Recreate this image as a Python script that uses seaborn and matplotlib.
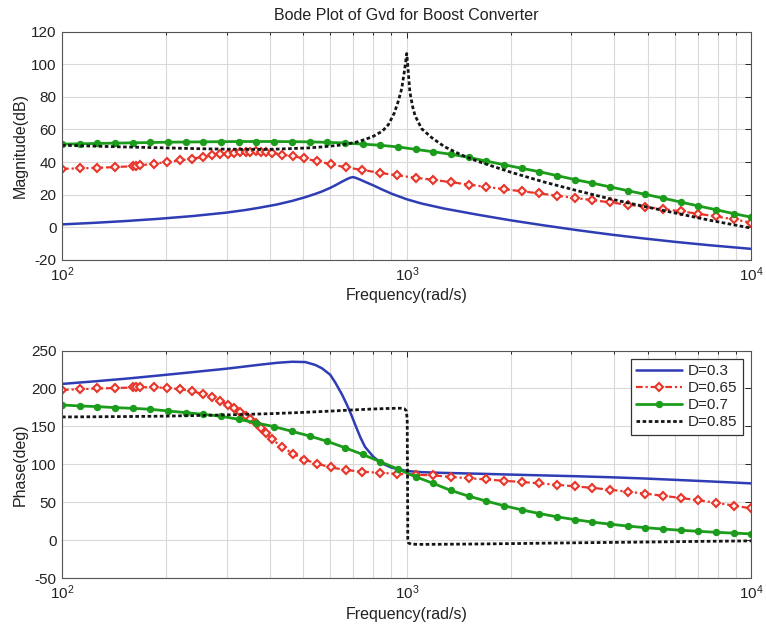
import matplotlib
matplotlib.use("Agg")
import matplotlib.pyplot as plt
import seaborn as sns
import pandas as pd
from matplotlib.ticker import LogLocator, NullFormatter, FixedLocator

# ---------------- data ----------------
labels = ["D=0.3", "D=0.65", "D=0.7", "D=0.85"]

# D=0.3 (solid blue)
freq_blue = [100, 125, 154, 190, 239, 299, 340, 373, 420, 465, 508, 543, 568, 600, 621,
             649, 670, 685, 698, 712, 733, 757, 800, 846, 904, 1000, 1104, 1285, 1600,
             2003, 2500, 3119, 3897, 4864, 6068, 7587, 10000]
mag_blue = [1.8, 2.8, 3.9, 5.2, 6.9, 9.0, 10.6, 12.0, 14.0, 16.2, 18.5, 20.5, 22.0, 24.2, 25.8,
            28.0, 29.5, 30.4, 30.8, 30.3, 29.2, 27.9, 25.7, 23.3, 20.6, 17.2, 14.6, 11.5, 7.8,
            4.3, 1.2, -1.7, -4.4, -6.8, -9.0, -11.0, -13.2]
phase_blue = [206.0, 209.5, 213.0, 217.0, 221.5, 226.0, 229.0, 231.2, 233.8, 235.2, 234.8, 231.0,
              226.5, 218.0, 207.5, 192.0, 179.0, 169.0, 160.0, 150.0, 136.0, 123.0, 110.0, 101.5,
              95.7, 91.3, 89.8, 88.8, 87.8, 86.6, 85.5, 84.4, 83.1, 81.5, 79.6, 77.6, 75.0]

# D=0.65 (red, diamonds)
freq_red = [100, 112.5, 126.6, 142.5, 160.4, 164, 168, 184.5, 201, 220, 238, 256, 272, 288, 302,
            316, 329, 341, 352, 365, 378, 390, 407, 434, 468, 504, 548, 602, 668, 743, 836, 940,
            1061, 1194, 1343, 1511, 1701, 1914, 2154, 2424, 2728, 3070, 3454, 3887, 4374, 4922,
            5539, 6233, 7014, 7893, 8882, 10000]
mag_red = [35.9, 36.1, 36.5, 36.9, 37.5, 37.8, 38.0, 39.0, 40.0, 41.0, 42.1, 43.1, 44.1, 44.7, 45.1,
           45.5, 46.0, 46.2, 46.4, 46.6, 46.3, 46.0, 45.5, 44.6, 43.6, 42.2, 40.6, 38.7, 36.7, 35.2,
           33.4, 31.8,
           30.4, 29.1, 27.7, 26.2, 24.8, 23.4, 22.1, 20.8, 19.4, 18.0, 16.7, 15.3, 13.9, 12.6,
           11.2, 9.8, 8.3, 6.7, 4.9, 2.8]
phase_red = [198.1, 199.0, 200.0, 200.6, 201.3, 201.5, 201.6, 201.6, 200.8, 199.0, 196.6, 192.6,
             188.4, 183.6, 178.5, 173.9, 168.4, 163.8, 159.6, 154.3, 148.0, 141.5, 133.0, 123.0,
             114.2, 106.4, 101.2, 96.0, 92.6, 90.4, 89.0, 87.5,
             86.5, 85.5, 83.5, 81.8, 80.2, 78.4, 76.9, 75.0, 73.2, 71.1, 69.1, 66.7, 64.1, 61.5,
             58.7, 55.8, 52.8, 49.4, 45.8, 42.0]

# D=0.7 (green, dots)
freq_green = [100, 112.5, 126.6, 142.5, 160.4, 180.5, 203.1, 228.6, 257.2, 289.5, 325.7, 366.5,
              412.5, 464.2, 522.3, 587.8, 661.4, 744.3, 837.6, 942.5, 1061, 1194, 1343, 1511,
              1701, 1914, 2154, 2424, 2728, 3070, 3454, 3887, 4374, 4922, 5539, 6233, 7014,
              7893, 8882, 10000]
mag_green = [51.0, 51.2, 51.4, 51.6, 51.8, 52.0, 52.2, 52.3, 52.4, 52.5, 52.6, 52.6, 52.6, 52.5,
             52.4, 52.1, 51.7, 51.0, 50.3, 49.3, 47.8, 46.3, 44.8, 42.9, 40.6, 38.4, 36.2, 34.1,
             31.7, 29.3, 27.1, 24.8, 22.5, 20.2, 17.9, 15.5, 13.1, 10.8, 8.4, 6.2]
phase_green = [178.3, 177.0, 176.1, 174.8, 173.9, 172.6, 170.4, 168.2, 166.0, 163.4, 159.4, 154.6,
               149.7, 143.6, 137.4, 130.4, 122.0, 113.2, 103.6, 93.9, 83.8, 75.0, 65.7, 58.3,
               51.7, 45.6, 40.2, 35.3, 31.0, 27.3, 24.1, 21.3, 18.8, 16.7, 14.9, 13.3, 11.9,
               10.6, 9.5, 8.5]

# D=0.85 (black, dotted)
freq_black = [100, 150, 200, 250, 300, 350, 400, 455, 520, 568, 634, 708, 760, 800, 850, 885, 920,
              944, 967, 985, 995, 1000, 1006, 1021, 1040, 1057, 1104, 1181, 1285, 1436, 1604,
              2003, 2500, 3119, 3897, 4864, 6068, 7587, 10000]
mag_black = [50.3, 49.3, 48.7, 48.2, 47.9, 47.8, 47.8, 48.2, 48.7, 49.3, 50.3, 52.0, 54.0, 55.8,
             59.0, 63.0, 70.0, 77.0, 85.0, 96.0, 103.0, 106.5, 100.0, 83.0, 74.0, 68.5, 60.5,
             55.0, 49.5, 44.5, 40.5, 33.8, 27.8, 22.5, 17.4, 12.9, 8.6, 4.3, -0.5]
freq_black_ph = [100, 150, 200, 300, 400, 500, 600, 700, 800, 900, 960, 985, 997, 1003, 1005,
                 1007, 1012, 1030, 1100, 1300, 1600, 2000, 3000, 5000, 7000, 10000]
phase_black = [162.5, 163.0, 163.6, 165.2, 166.8, 168.5, 170.2, 171.8, 173.0, 173.8, 174.0, 173.2,
               170.5, 160.0, 90.0, 2.0, -3.5, -5.0, -5.3, -5.1, -4.8, -4.3, -3.3, -2.2, -1.4, -0.7]

mag_ticks = [-20, 0, 20, 40, 60, 80, 100, 120]
phase_ticks = [-50, 0, 50, 100, 150, 200, 250]

# ---------------- styling ----------------
sns.set_theme(style="white")
plt.rcParams["font.family"] = ["Liberation Sans", "DejaVu Sans"]
plt.rcParams["mathtext.fontset"] = "custom"
plt.rcParams["mathtext.rm"] = "Liberation Sans"
plt.rcParams["mathtext.it"] = "Liberation Sans:italic"
plt.rcParams["axes.unicode_minus"] = False

C_BLUE = "#2f3db5"
C_RED = "#e8352a"
C_GREEN = "#1b9c1b"
C_BLACK = "#151515"

styles = {
    "D=0.3": dict(color=C_BLUE, linewidth=1.8, linestyle="-"),
    "D=0.65": dict(color=C_RED, linewidth=1.6, linestyle=(0, (3, 1.3, 1, 1.3)), marker="D",
                   markersize=4, markerfacecolor="#fff0ee", markeredgecolor=C_RED,
                   markeredgewidth=1.5),
    "D=0.7": dict(color=C_GREEN, linewidth=2.0, linestyle="-", marker="o", markersize=4.5,
                  markerfacecolor=C_GREEN, markeredgecolor=C_GREEN, markeredgewidth=0.8),
    "D=0.85": dict(color=C_BLACK, linewidth=2.0, linestyle=(0, (1.3, 0.9))),
}

fig = plt.figure(figsize=(7.66, 6.31), dpi=100)
ax1 = fig.add_axes([0.081, 0.588, 0.900, 0.362])
ax2 = fig.add_axes([0.081, 0.0835, 0.900, 0.361])

mag_series = [(freq_blue, mag_blue), (freq_red, mag_red), (freq_green, mag_green),
              (freq_black, mag_black)]
ph_series = [(freq_blue, phase_blue), (freq_red, phase_red), (freq_green, phase_green),
             (freq_black_ph, phase_black)]

for lab, (fx, fy) in zip(labels, mag_series):
    df = pd.DataFrame({"f": fx, "v": fy})
    sns.lineplot(data=df, x="f", y="v", ax=ax1, estimator=None, sort=False, legend=False,
                 **styles[lab])
for lab, (fx, fy) in zip(labels, ph_series):
    df = pd.DataFrame({"f": fx, "v": fy})
    sns.lineplot(data=df, x="f", y="v", ax=ax2, estimator=None, sort=False, label=lab,
                 **styles[lab])


def style_axis(ax, ylim, yticks, ylabel):
    ax.set_xscale("log")
    ax.set_xlim(100, 10000)
    ax.set_ylim(*ylim)
    ax.yaxis.set_major_locator(FixedLocator(yticks))
    ax.xaxis.set_major_locator(LogLocator(base=10, numticks=10))
    ax.xaxis.set_minor_locator(LogLocator(base=10, subs=range(2, 10), numticks=20))
    ax.xaxis.set_minor_formatter(NullFormatter())
    ax.grid(True, which="major", color="#d9d9d9", linewidth=0.8)
    ax.grid(True, which="minor", axis="x", color="#d9d9d9", linewidth=0.8)
    ax.set_axisbelow(True)
    ax.tick_params(which="both", direction="in", top=True, right=True, labelsize=11,
                   colors="#222222", width=0.7)
    ax.tick_params(which="major", length=4, pad=4)
    ax.tick_params(which="minor", length=2.5)
    for s in ax.spines.values():
        s.set_color("#555555")
        s.set_linewidth(0.8)
    ax.set_xlabel("Frequency(rad/s)", fontsize=11.5, color="#222222", labelpad=3)
    ax.set_ylabel(ylabel, fontsize=11.5, color="#222222", labelpad=2)


style_axis(ax1, (-20, 120), mag_ticks, "Magnitude(dB)")
style_axis(ax2, (-50, 250), phase_ticks, "Phase(deg)")
ax1.set_title("Bode Plot of Gvd for Boost Converter", fontsize=11.5, color="#222222", pad=8)

leg = ax2.legend(loc="upper right", fontsize=11, frameon=True, fancybox=False,
                 edgecolor="#333333", framealpha=1, handlelength=3.0, borderaxespad=0.55,
                 labelspacing=0.2, handletextpad=0.4, borderpad=0.35)
leg.get_frame().set_linewidth(0.9)

fig.savefig("out.png", dpi=100)
